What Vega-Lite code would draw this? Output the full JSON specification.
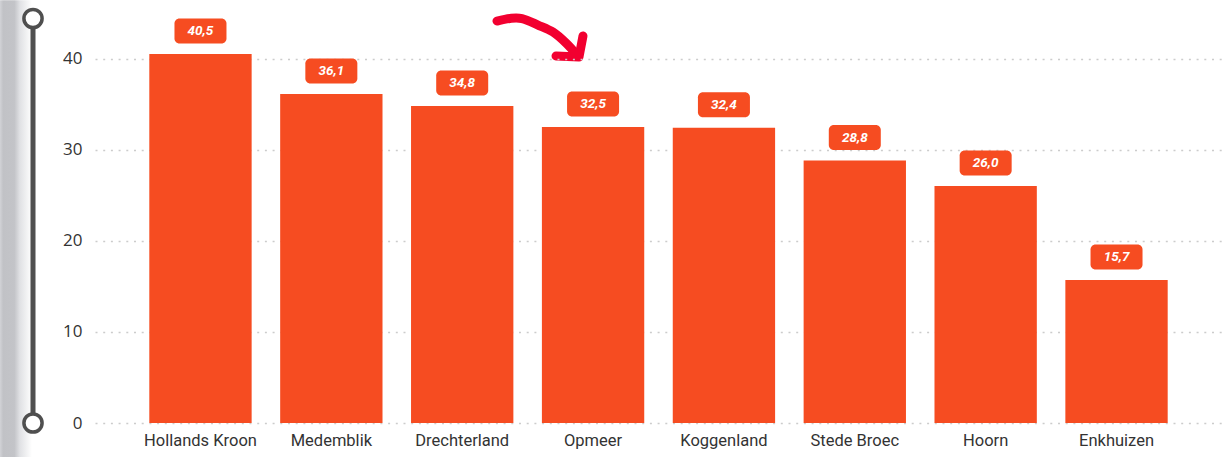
{
  "$schema": "https://vega.github.io/schema/vega-lite/v6.json",
  "autosize": {"type": "pad"},
  "padding": 0,
  "background": "white",
  "bounds": "flush",
  "spacing": 0,
  "config": {
    "view": {"stroke": null}
  },
  "hconcat": [
    {
      "width": 95,
      "height": 410,
      "layer": [
        {
          "data": {"values": [{"x": 0, "x2": 32, "y": -4, "y2": 46.41}]},
          "mark": {"type": "rect", "color": {"gradient": "linear", "x1": 0, "x2": 1, "y1": 0, "y2": 0, "stops": [{"offset": 0, "color": "#d2d3d7"}, {"offset": 0.1, "color": "#c1c2c6"}, {"offset": 0.45, "color": "#c3c4c8"}, {"offset": 0.62, "color": "#e0e1e4"}, {"offset": 1, "color": "#ffffff"}]}},
          "encoding": {
            "x": {"field": "x", "type": "quantitative", "scale": {"domain": [0, 95], "nice": false, "zero": false}, "axis": null},
            "x2": {"field": "x2"},
            "y": {"field": "y", "type": "quantitative", "scale": {"domain": [0, 45], "nice": false, "zero": false}, "axis": null},
            "y2": {"field": "y2"}
          }
        },
        {
          "data": {"values": [{"x": 33, "y": 0, "y2": 44.4}]},
          "mark": {"type": "rule", "color": "#4f4f4f", "strokeWidth": 5},
          "encoding": {
            "x": {"field": "x", "type": "quantitative"},
            "y": {"field": "y", "type": "quantitative"},
            "y2": {"field": "y2"}
          }
        },
        {
          "data": {"values": [{"x": 33, "y": 0}, {"x": 33, "y": 44.4}]},
          "mark": {"type": "point", "shape": "circle", "filled": true, "fill": "white", "stroke": "#4f4f4f", "strokeWidth": 3.5, "size": 330, "opacity": 1},
          "encoding": {
            "x": {"field": "x", "type": "quantitative"},
            "y": {"field": "y", "type": "quantitative"}
          }
        },
        {
          "data": {"values": [
            {"i": 1, "x": 497, "y": 44.12},
            {"i": 2, "x": 510, "y": 44.4},
            {"i": 3, "x": 522, "y": 44.38},
            {"i": 4, "x": 538, "y": 43.68},
            {"i": 5, "x": 553, "y": 42.91},
            {"i": 6, "x": 566, "y": 41.71},
            {"i": 7, "x": 577, "y": 40.39}
          ]},
          "mark": {"type": "line", "color": "#f20030", "strokeWidth": 9, "strokeCap": "round", "strokeJoin": "round", "interpolate": "cardinal"},
          "encoding": {
            "x": {"field": "x", "type": "quantitative"},
            "y": {"field": "y", "type": "quantitative"},
            "order": {"field": "i"}
          }
        },
        {
          "data": {"values": [
            {"i": 1, "x": 583, "y": 42.48},
            {"i": 2, "x": 579, "y": 40.17},
            {"i": 3, "x": 556, "y": 40.28}
          ]},
          "mark": {"type": "line", "color": "#f20030", "strokeWidth": 9, "strokeCap": "round", "strokeJoin": "round", "interpolate": "linear"},
          "encoding": {
            "x": {"field": "x", "type": "quantitative"},
            "y": {"field": "y", "type": "quantitative"},
            "order": {"field": "i"}
          }
        }
      ]
    },
    {
      "width": 1127,
      "height": 410,
      "data": {"values": [
        {"gemeente": "Hollands Kroon", "waarde": 40.5, "label": "40,5"},
        {"gemeente": "Medemblik", "waarde": 36.1, "label": "36,1"},
        {"gemeente": "Drechterland", "waarde": 34.8, "label": "34,8"},
        {"gemeente": "Opmeer", "waarde": 32.5, "label": "32,5"},
        {"gemeente": "Koggenland", "waarde": 32.4, "label": "32,4"},
        {"gemeente": "Stede Broec", "waarde": 28.8, "label": "28,8"},
        {"gemeente": "Hoorn", "waarde": 26.0, "label": "26,0"},
        {"gemeente": "Enkhuizen", "waarde": 15.7, "label": "15,7"}
      ]},
      "encoding": {
        "x": {
          "field": "gemeente", "type": "nominal", "sort": null,
          "scale": {"paddingInner": 0.218, "paddingOuter": 0.415},
          "axis": {"title": null, "labelAngle": 0, "domain": false, "ticks": false, "labelPadding": 9, "labelFont": "Roboto", "labelFontSize": 16.5, "labelColor": "#333333"}
        },
        "y": {
          "field": "waarde", "type": "quantitative",
          "scale": {"domain": [0, 45], "nice": false, "zero": true},
          "axis": {"title": null, "values": [0, 10, 20, 30, 40], "domain": false, "ticks": false, "labelPadding": 13, "labelFont": "Open Sans", "labelFontSize": 17, "labelColor": "#333333", "grid": true, "gridColor": "#cccccc", "gridDash": [2, 5.7], "gridWidth": 1.5, "format": "d"}
        }
      },
      "layer": [
        {"mark": {"type": "bar", "color": "#f64c21"}},
        {"mark": {"type": "point", "shape": "M-0.8077,-0.4808L0.8077,-0.4808A0.1923,0.1923,0,0,1,1,-0.2885L1,0.2885A0.1923,0.1923,0,0,1,0.8077,0.4808L-0.8077,0.4808A0.1923,0.1923,0,0,1,-1,0.2885L-1,-0.2885A0.1923,0.1923,0,0,1,-0.8077,-0.4808Z", "size": 2704, "filled": true, "color": "#f64c21", "opacity": 1, "strokeWidth": 0, "yOffset": -23}},
        {"mark": {"type": "text", "color": "white", "font": "Roboto", "fontSize": 13.5, "fontWeight": "bold", "fontStyle": "italic", "yOffset": -23, "baseline": "middle"},
         "encoding": {"text": {"field": "label", "type": "nominal"}}}
      ]
    }
  ]
}
